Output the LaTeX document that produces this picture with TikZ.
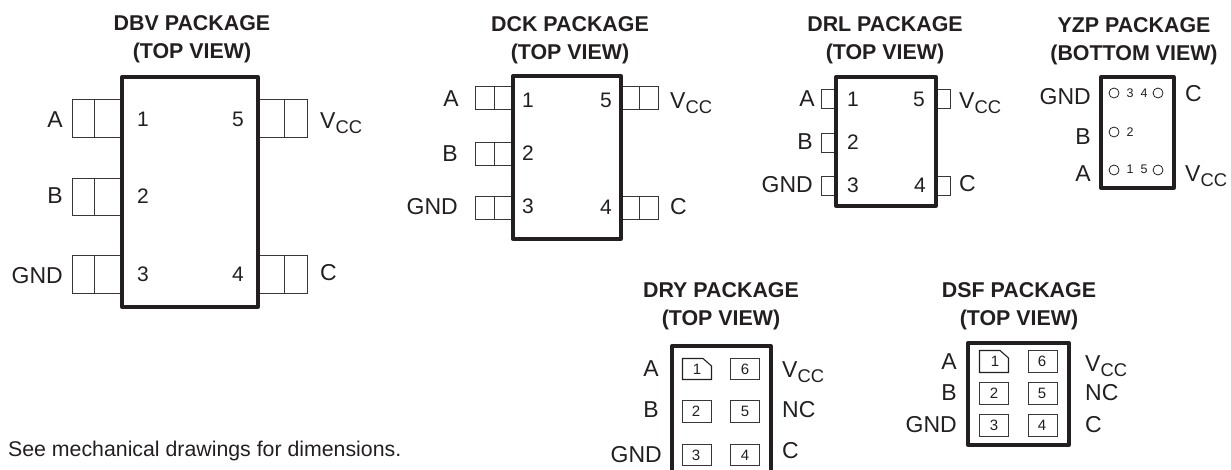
\documentclass[tikz,border=0pt]{standalone}
\usepackage{fontspec}
\setmainfont{Liberation Sans}
\definecolor{ink}{HTML}{231F20}
\definecolor{padc}{HTML}{3A3637}
\tikzset{
  body/.style={draw=ink,line width=3.3pt,line join=round,line cap=round},
  pad/.style={draw=padc,line width=1pt},
  smallpad/.style={draw=padc,line width=0.9pt},
  chamfer/.style={draw=ink,line width=1.1pt},
  titlelab/.style={font=\fontsize{21.4}{28}\selectfont\bfseries,text=ink,align=center,inner sep=0pt},
  lr/.style={font=\fontsize{23}{23}\selectfont,text=ink,anchor=east,inner sep=0pt},
  ll/.style={font=\fontsize{23}{23}\selectfont,text=ink,anchor=west,inner sep=0pt},
  lv/.style={font=\fontsize{23}{23}\selectfont,text=ink,anchor=base west,inner sep=0pt},
  num/.style={font=\fontsize{21}{21}\selectfont,text=ink,inner sep=0pt},
  tinynum/.style={font=\fontsize{12.5}{12.5}\selectfont,text=ink,inner sep=0pt},
  padnum/.style={font=\fontsize{15}{15}\selectfont,text=ink,inner sep=0pt},
  ball/.style={draw=ink,line width=0.8pt,circle,minimum size=10pt,inner sep=0pt},
  note/.style={font=\fontsize{21.3}{21.3}\selectfont,text=ink,anchor=base west,inner sep=0pt}
}
\newcommand{\Vcc}{V\raisebox{-0.22em}{\fontsize{23}{23}\selectfont\scalebox{0.8}{CC}}}
% left/right gull-wing pads: x-outer, x-div, x-body, y-top, y-bottom
\newcommand{\gullpad}[5]{\draw[pad] (#3,#4) -- (#1,#4) -- (#1,#5) -- (#3,#5); \draw[pad] (#2,#4) -- (#2,#5);}
\newcommand{\flatpad}[3]{\draw[smallpad] (#1,#2) rectangle (#1+29,#3);}
\newcommand{\chamferpad}[3]{\draw[chamfer] (#1+21,#2+0.5) -- (#1+0.5,#2+0.5) -- (#1+0.5,#3+0.5) -- (#1+29.5,#3+0.5) -- (#1+29.5,#2+8) -- cycle;}
\begin{document}
\begin{tikzpicture}[x=1pt,y=-1pt]
\useasboundingbox (0,0) rectangle (1231,469);
% DBV
\node[titlelab] (dbvt) at (192,39) {DBV PACKAGE\\(TOP VIEW)};
\gullpad{72.5}{94.5}{122}{99}{137}
\gullpad{72.5}{94.5}{122}{178}{215}
\gullpad{72.5}{94.5}{122}{255}{293}
\gullpad{307}{284}{258}{99}{137}
\gullpad{307}{284}{258}{255}{293}
\draw[body] (122,77) rectangle (258,307);
\node[lr] (dbva) at (63,120) {A};
\node[lr] (dbvb) at (63,196) {B};
\node[lr] (dbvg) at (63,276) {GND};
\node[lv] (dbvv) at (320,128) {\Vcc};
\node[ll] (dbvc) at (320,273) {C};
\node[num] (dbv1) at (143,119) {1};
\node[num] (dbv2) at (143,196) {2};
\node[num] (dbv3) at (143,274) {3};
\node[num] (dbv5) at (238,119) {5};
\node[num] (dbv4) at (238,274) {4};
% DCK
\node[titlelab] (dckt) at (570,40) {DCK PACKAGE\\(TOP VIEW)};
\gullpad{475}{494.5}{513}{86}{109}
\gullpad{475}{494.5}{513}{142}{165}
\gullpad{475}{494.5}{513}{196}{219}
\gullpad{658}{639}{621}{86}{109}
\gullpad{658}{639}{621}{196}{219}
\draw[body] (513,76) rectangle (621,239);
\node[lr] (dcka) at (459,99) {A};
\node[lr] (dckb) at (458,154) {B};
\node[lr] (dckg) at (458,207) {GND};
\node[lv] (dckv) at (670,108) {\Vcc};
\node[ll] (dckc) at (670,207) {C};
\node[num] (dck1) at (528,100) {1};
\node[num] (dck2) at (528,153) {2};
\node[num] (dck3) at (528,206) {3};
\node[num] (dck5) at (606,100) {5};
\node[num] (dck4) at (606,207) {4};
% DRL
\node[titlelab] (drlt) at (885,40) {DRL PACKAGE\\(TOP VIEW)};
\draw[pad] (836,89) -- (821,89) -- (821,108) -- (836,108);
\draw[pad] (836,133) -- (821,133) -- (821,152) -- (836,152);
\draw[pad] (836,176) -- (821,176) -- (821,195) -- (836,195);
\draw[pad] (936,89) -- (950,89) -- (950,108) -- (936,108);
\draw[pad] (936,176) -- (950,176) -- (950,195) -- (936,195);
\draw[body] (836,77) rectangle (936,206);
\node[lr] (drla) at (815,99) {A};
\node[lr] (drlb) at (813,142) {B};
\node[lr] (drlg) at (813,185) {GND};
\node[lv] (drlv) at (959,108) {\Vcc};
\node[ll] (drlc) at (959,184) {C};
\node[num] (drl1) at (853,99) {1};
\node[num] (drl2) at (853,142) {2};
\node[num] (drl3) at (853,185) {3};
\node[num] (drl5) at (919,99) {5};
\node[num] (drl4) at (920,185) {4};
% YZP
\node[titlelab] (yzpt) at (1134,41) {YZP PACKAGE\\(BOTTOM VIEW)};
\draw[body] (1101,77) rectangle (1174,188);
\node[ball] (yzpb3) at (1114,93) {};
\node[ball] (yzpb4) at (1158,93) {};
\node[ball] (yzpb2) at (1114,132) {};
\node[ball] (yzpb1) at (1114,170) {};
\node[ball] (yzpb5) at (1158,170) {};
\node[tinynum] (yzp3) at (1130,93) {3};
\node[tinynum] (yzp4) at (1144,93) {4};
\node[tinynum] (yzp2) at (1130,132) {2};
\node[tinynum] (yzp1) at (1130,169) {1};
\node[tinynum] (yzp5) at (1144,169) {5};
\node[lr] (yzpg) at (1091,97) {GND};
\node[lr] (yzpB) at (1091,137) {B};
\node[lr] (yzpA) at (1091,174) {A};
\node[ll] (yzpc) at (1185,94) {C};
\node[lv] (yzpv) at (1185,181) {\Vcc};
% DRY
\node[titlelab] (dryt) at (721,306.5) {DRY PACKAGE\\(TOP VIEW)};
\draw[body] (672,470) -- (672,346) -- (771,346) -- (771,470);
\chamferpad{682}{358}{379}
\flatpad{682}{400}{422}
\flatpad{682}{444}{465}
\flatpad{730}{358}{379}
\flatpad{730}{400}{422}
\flatpad{730}{444}{465}
\node[padnum] (dry1) at (697,369) {1};
\node[padnum] (dry2) at (696,411) {2};
\node[padnum] (dry3) at (696,455) {3};
\node[padnum] (dry6) at (745,369) {6};
\node[padnum] (dry5) at (745,411) {5};
\node[padnum] (dry4) at (745,455) {4};
\node[lr] (drya) at (659,369) {A};
\node[lr] (dryb) at (659,410) {B};
\node[lr] (dryg) at (662,455) {GND};
\node[lv] (dryv) at (782,377) {\Vcc};
\node[ll] (drync) at (782,410) {NC};
\node[ll] (dryc) at (782,451) {C};
% DSF
\node[titlelab] (dsft) at (1019,306.5) {DSF PACKAGE\\(TOP VIEW)};
\draw[body] (968,343) rectangle (1069,445);
\chamferpad{979}{350}{372}
\flatpad{979}{382}{404}
\flatpad{979}{414}{436}
\flatpad{1028}{350}{372}
\flatpad{1028}{382}{404}
\flatpad{1028}{414}{436}
\node[padnum] (dsf1) at (995,361) {1};
\node[padnum] (dsf2) at (994,393) {2};
\node[padnum] (dsf3) at (994,425) {3};
\node[padnum] (dsf6) at (1042,361) {6};
\node[padnum] (dsf5) at (1042,393) {5};
\node[padnum] (dsf4) at (1042,425) {4};
\node[lr] (dsfa) at (957,362) {A};
\node[lr] (dsfb) at (957,393) {B};
\node[lr] (dsfg) at (957,425) {GND};
\node[lv] (dsfv) at (1085,371) {\Vcc};
\node[ll] (dsfnc) at (1085,393) {NC};
\node[ll] (dsfc) at (1085,425) {C};
% note
\node[note] (noteline) at (8,456.7) {See mechanical drawings for dimensions.};
\end{tikzpicture}
\end{document}
